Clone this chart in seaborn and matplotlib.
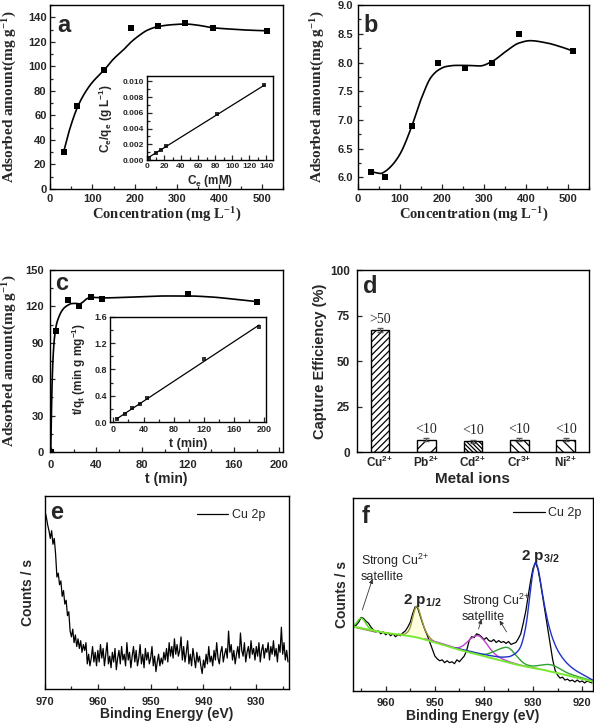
import matplotlib.pyplot as plt
import matplotlib.ticker as mticker
import numpy as np
import seaborn as sns

# ---- (a) Cu2+ adsorption isotherm ----
conc_a = [32, 64, 128, 192, 256, 320, 384, 512]
q_a = [30, 68, 97, 131, 133, 135, 131, 129]
fit_a_x = [32, 45, 64, 80, 100, 128, 150, 175, 192, 210, 230, 256, 290, 320, 350, 384, 430, 470, 512]
fit_a_y = [30, 47, 66, 77, 87, 97, 106, 114, 120, 125, 129.5, 132.5, 134, 134.5, 133.5, 131.5, 130.3, 129.5, 129]
# inset (a): Ce/qe vs Ce
ce_a = [2, 10, 16, 22, 82, 138]
ceqe_a = [0.0002, 0.0009, 0.0013, 0.0018, 0.0058, 0.0095]

# ---- (b) second isotherm ----
conc_b = [32, 64, 128, 192, 256, 320, 384, 512]
q_b = [6.1, 6.0, 6.9, 8.0, 7.9, 8.0, 8.5, 8.2]
fit_b_x = [32, 45, 55, 64, 80, 100, 128, 150, 175, 192, 210, 235, 256, 290, 320, 350, 384, 410, 450, 480, 512]
fit_b_y = [6.1, 6.08, 6.07, 6.1, 6.2, 6.4, 6.88, 7.35, 7.75, 7.87, 7.93, 7.95, 7.95, 7.94, 8.02, 8.18, 8.34, 8.38, 8.34, 8.28, 8.2]

# ---- (c) kinetics ----
t_c = [0, 5, 15, 25, 35, 45, 120, 180]
q_c = [0, 100, 125, 120, 128, 126, 130, 124]
fit_c_x = [0, 0.8, 1.5, 2.5, 3.5, 5, 7, 9.5, 12, 15, 18, 22, 25, 28, 31, 35, 40, 45, 60, 80, 100, 120, 140, 160, 180]
fit_c_y = [0, 40, 65, 85, 96, 105, 111, 116, 119, 121, 122.3, 122.5, 122, 123.5, 126, 127.5, 127.3, 127, 127.3, 128, 128.6, 128.6, 127.8, 126, 124]
# inset (c): t/qt vs t
t_ci = [5, 15, 25, 35, 45, 120, 193]
tq_ci = [0.04, 0.12, 0.21, 0.27, 0.36, 0.96, 1.45]

# ---- (d) selectivity ----
ions = ["Cu$^{2{+}}$", "Pb$^{2{+}}$", "Cd$^{2{+}}$", "Cr$^{3{+}}$", "Ni$^{2{+}}$"]
eff = [67, 7, 6, 7, 7]
eff_err = [1.2, 0.9, 1.0, 0.8, 0.8]
eff_note = [">50", "<10", "<10", "<10", "<10"]
hatches = ["/////", "//", "\\\\\\\\\\\\\\\\", "\\\\\\\\", "\\\\\\"]

# ---- (e) XPS Cu 2p before adsorption (0.25 eV steps, 970 -> 924 eV) ----
cnt_e = [92, 89, 85, 82, 78, 82, 75, 78, 70, 58, 60, 54, 56, 48, 51, 44, 46, 38, 40, 30,
         27, 31, 24, 28, 22, 26, 21, 25, 19, 23, 20, 24, 13, 18, 12, 16, 22, 14, 19, 12,
         20, 14, 23, 16, 21, 12, 18, 24, 13, 17, 11, 19, 14, 21, 10, 16, 20, 13, 22, 15,
         18, 12, 24, 15, 19, 11, 17, 22, 14, 20, 12, 16, 23, 13, 18, 11, 21, 15, 19, 13,
         16, 22, 12, 17, 9, 14, 18, 12, 16, 13, 19, 15, 21, 14, 24, 17, 22, 16, 26, 18,
         23, 17, 20, 27, 15, 22, 14, 19, 25, 13, 18, 12, 21, 16, 11, 19, 14, 17, 12, 8,
         15, 11, 18, 13, 22, 14, 17, 12, 20, 15, 24, 16, 13, 19, 22, 14, 18, 21, 16, 30,
         19, 23, 15, 20, 13, 18, 22, 16, 29, 20, 17, 24, 14, 19, 22, 16, 25, 18, 21, 15,
         22, 17, 24, 14, 20, 23, 16, 21, 19, 24, 15, 22, 18, 25, 17, 21, 14, 23, 19, 32,
         18, 24, 15, 20, 14]

# ---- (f) XPS Cu 2p after adsorption (0.5 eV steps from 966.5 eV) ----
cnt_f = [33.5, 34, 35.5, 38, 37.5, 36, 35, 33, 31.5, 30.5, 31, 29.5, 30.5, 29, 30, 28.5, 29.5, 28, 29, 28.5,
         30, 31, 33, 35.5, 40, 43.5, 43, 39, 35, 31.5, 28.5, 25, 21.5, 18, 16.5, 15.5, 16, 14.5, 15.5, 14.5,
         15, 14, 16, 15, 16.5, 18, 21, 26, 28, 27.5, 29.5, 29, 28, 26.5, 27.5, 26, 25.5, 26.5, 25, 26,
         25, 25.5, 24.5, 25.5, 24, 24.5, 25, 27, 29.5, 35, 41, 49, 57, 63.5, 66.5, 63, 56, 48, 40, 32,
         24, 16, 10.5, 8, 6.5, 7, 5.5, 6, 5, 5.5, 4.5, 5.5, 4.5, 5, 4, 5, 4.5, 4]
bg_f_x = [966.65, 963, 960, 957, 954, 951, 948, 945, 942, 939, 936, 933, 930, 927, 924, 921, 917.8]
bg_f_y = [33.3, 31.5, 30, 29, 27.8, 25.8, 23.5, 21.2, 19.2, 17.3, 15.3, 13.3, 11.8, 10.3, 8.5, 6.7, 4.7]
sat1_x = [966.65, 966, 965.5, 965, 964.5, 964, 963.5, 963, 962.5]
sat1_y = [33.6, 35, 36.8, 37.6, 36.8, 34.8, 33, 31.8, 31.3]
p12_x = [957.5, 956.5, 955.5, 955, 954.5, 954, 953.75, 953.5, 953, 952.5, 952, 951.5, 951, 950.5, 950]
p12_y = [29.3, 29.2, 30.5, 33, 38, 42.5, 43.8, 43.3, 40, 35.5, 31.8, 29.3, 27.5, 26.2, 25.3]
p12_bg = [29.2, 28.8, 28.4, 28.2, 28.0, 27.8, 27.7, 27.6, 27.5, 27.1, 26.8, 26.1, 25.8, 25.4, 25.0]
sat2_x = [952, 949, 947, 945.5, 944.5, 943.5, 942.5, 941.5, 941, 940.5, 939.5, 938.5, 937.5, 936, 934, 932, 930, 929]
sat2_y = [26.9, 24.8, 23.2, 22.2, 23, 25, 27.3, 28.5, 28.4, 27.5, 24.5, 21, 18.5, 16.2, 14.3, 12.9, 11.9, 11.4]
sat3_x = [945, 942, 940, 939, 938, 937, 936, 935.5, 935, 934.5, 934, 933, 932, 931, 930, 929, 928, 927, 926, 925, 923, 920, 917.8]
sat3_y = [21.5, 19.6, 18.8, 19.3, 20.3, 21.4, 22.3, 22.5, 22.2, 21.3, 20, 17, 14.5, 13.2, 12.8, 13, 13.4, 13.6, 13.2, 12, 9.2, 6.6, 5.0]
p32_x = [946, 943, 940, 938, 936.5, 935, 934, 933, 932.5, 932, 931.5, 931, 930.5, 930, 929.5, 929, 928.5, 928, 927.5, 927, 926.5, 926, 925, 924, 923, 921.5, 920, 917.8]
p32_y = [22.3, 20.5, 18.8, 17.9, 17.4, 17.6, 18.6, 20.8, 23, 27, 33, 41.5, 52.5, 62, 66.5, 63.5, 57, 49, 42, 36, 31, 27, 21, 17, 14, 10.8, 8.5, 5.4]


def pchip(x, y, n=400):
    # monotone cubic through the read curve points, only for a smooth line
    x = np.asarray(x, float)
    y = np.asarray(y, float)
    order = np.argsort(x)
    x, y = x[order], y[order]
    h = np.diff(x)
    s = np.diff(y) / h
    d = np.zeros_like(x)
    d[0], d[-1] = s[0], s[-1]
    for k in range(1, len(x) - 1):
        if s[k - 1] * s[k] > 0:
            w1 = 2 * h[k] + h[k - 1]
            w2 = h[k] + 2 * h[k - 1]
            d[k] = (w1 + w2) / (w1 / s[k - 1] + w2 / s[k])
    xs = np.linspace(x[0], x[-1], n)
    i = np.clip(np.searchsorted(x, xs) - 1, 0, len(x) - 2)
    t = (xs - x[i]) / h[i]
    ys = ((2 * t**3 - 3 * t**2 + 1) * y[i] + (t**3 - 2 * t**2 + t) * h[i] * d[i]
          + (-2 * t**3 + 3 * t**2) * y[i + 1] + (t**3 - t**2) * h[i] * d[i + 1])
    return xs, ys


def style(ax, size, xpad=3, ypad=3):
    ax.tick_params(which="both", direction="in", top=False, right=False, labelsize=size, width=0.9)
    ax.tick_params(which="major", length=3.5)
    ax.tick_params(which="minor", length=2)
    ax.tick_params(axis="x", pad=xpad)
    ax.tick_params(axis="y", pad=ypad)
    for s in ax.spines.values():
        s.set_visible(True)
        s.set_linewidth(1.0)
        s.set_color("black")


def letter(ax, x, y, txt):
    ax.text(x, y, txt, transform=ax.transAxes, fontsize=17, fontweight="bold", va="baseline", ha="left")


sns.set_style("ticks")
plt.rcParams["font.family"] = ["Liberation Sans", "DejaVu Sans"]
plt.rcParams["font.weight"] = "bold"
plt.rcParams["axes.labelweight"] = "bold"
plt.rcParams["mathtext.default"] = "regular"
plt.rcParams["hatch.linewidth"] = 0.9

fig = plt.figure(figsize=(5.94, 7.28), dpi=100)
serif = ["Liberation Serif", "DejaVu Serif"]

# ---------------- (a) ----------------
ax_a = fig.add_axes([0.0842, 0.7404, 0.392, 0.2527])
fx, fy = pchip(fit_a_x, fit_a_y)
sns.lineplot(x=fx, y=fy, color="black", lw=1.2, ax=ax_a)
sns.scatterplot(x=conc_a, y=q_a, marker="s", s=22, color="black", linewidth=0, ax=ax_a, zorder=3)
ax_a.set_xlim(0, 550)
ax_a.set_ylim(0, 150)
ax_a.xaxis.set_major_locator(mticker.MultipleLocator(100))
ax_a.xaxis.set_minor_locator(mticker.MultipleLocator(50))
ax_a.yaxis.set_major_locator(mticker.MultipleLocator(20))
ax_a.yaxis.set_minor_locator(mticker.MultipleLocator(10))
style(ax_a, 8, xpad=3.5, ypad=2.5)
ax_a.set_xlabel("Concentration (mg L$^{-1}$)", fontsize=10.5, family=serif)
ax_a.set_ylabel("Adsorbed amount(mg g$^{-1}$)", fontsize=11, family=serif)
ax_a.xaxis.set_label_coords(0.5, -0.092)
ax_a.yaxis.set_label_coords(-0.132, 0.5)
letter(ax_a, 0.03, 0.855, "a")

ax_ai = fig.add_axes([0.2475, 0.7802, 0.2121, 0.1154])
ax_ai.set_facecolor("white")
sns.regplot(x=ce_a, y=ceqe_a, ci=None, marker="s", color="black", ax=ax_ai,
            scatter_kws={"s": 9, "linewidths": 0}, line_kws={"lw": 0.9})
ax_ai.set_xlim(0, 148)
ax_ai.set_ylim(0, 0.0107)
ax_ai.xaxis.set_major_locator(mticker.MultipleLocator(20))
ax_ai.xaxis.set_minor_locator(mticker.MultipleLocator(10))
ax_ai.yaxis.set_major_locator(mticker.MultipleLocator(0.002))
ax_ai.yaxis.set_minor_locator(mticker.MultipleLocator(0.001))
ax_ai.yaxis.set_major_formatter(mticker.FormatStrFormatter("%.3f"))
style(ax_ai, 6, xpad=2, ypad=2)
ax_ai.set_xlabel("C$_e$ (mM)", fontsize=8.5)
ax_ai.set_ylabel("C$_e$/q$_e$ (g L$^{-1}$)", fontsize=8.5)
ax_ai.xaxis.set_label_coords(0.5, -0.158)
ax_ai.yaxis.set_label_coords(-0.254, 0.5)

# ---------------- (b) ----------------
ax_b = fig.add_axes([0.6022, 0.7404, 0.3894, 0.2527])
fx, fy = pchip(fit_b_x, fit_b_y)
sns.lineplot(x=fx, y=fy, color="black", lw=1.2, ax=ax_b)
sns.scatterplot(x=conc_b, y=q_b, marker="s", s=22, color="black", linewidth=0, ax=ax_b, zorder=3)
ax_b.set_xlim(0, 550)
ax_b.set_ylim(5.8, 9.0)
ax_b.xaxis.set_major_locator(mticker.MultipleLocator(100))
ax_b.xaxis.set_minor_locator(mticker.MultipleLocator(50))
ax_b.yaxis.set_major_locator(mticker.MultipleLocator(0.5))
ax_b.yaxis.set_minor_locator(mticker.MultipleLocator(0.25))
ax_b.yaxis.set_major_formatter(mticker.FormatStrFormatter("%.1f"))
style(ax_b, 8, xpad=3.5, ypad=3.5)
ax_b.set_xlabel("Concentration (mg L$^{-1}$)", fontsize=10.5, family=serif)
ax_b.set_ylabel("Adsorbed amount(mg g$^{-1}$)", fontsize=11, family=serif)
ax_b.xaxis.set_label_coords(0.5, -0.092)
ax_b.yaxis.set_label_coords(-0.134, 0.5)
letter(ax_b, 0.027, 0.855, "b")

# ---------------- (c) ----------------
ax_c = fig.add_axes([0.0842, 0.3791, 0.392, 0.25])
fx, fy = pchip(fit_c_x, fit_c_y)
sns.lineplot(x=fx, y=fy, color="black", lw=1.2, ax=ax_c)
sns.scatterplot(x=t_c, y=q_c, marker="s", s=22, color="black", linewidth=0, ax=ax_c, zorder=3)
ax_c.set_xlim(-0.6, 203)
ax_c.set_ylim(0, 150)
ax_c.xaxis.set_major_locator(mticker.MultipleLocator(40))
ax_c.xaxis.set_minor_locator(mticker.MultipleLocator(20))
ax_c.yaxis.set_major_locator(mticker.MultipleLocator(30))
ax_c.yaxis.set_minor_locator(mticker.MultipleLocator(15))
style(ax_c, 8, xpad=6, ypad=4.5)
ax_c.set_xlabel("t (min)", fontsize=10)
ax_c.set_ylabel("Adsorbed amount(mg g$^{-1}$)", fontsize=11, family=serif)
ax_c.xaxis.set_label_coords(0.5, -0.108)
ax_c.yaxis.set_label_coords(-0.132, 0.5)
letter(ax_c, 0.02, 0.89, "c")

ax_ci = fig.add_axes([0.1852, 0.4203, 0.2626, 0.1447])
ax_ci.set_facecolor("white")
sns.regplot(x=t_ci, y=tq_ci, ci=None, marker="s", color="black", ax=ax_ci,
            scatter_kws={"s": 9, "linewidths": 0}, line_kws={"lw": 0.9})
ax_ci.set_xlim(-4.4, 202)
ax_ci.set_ylim(0, 1.6)
ax_ci.xaxis.set_major_locator(mticker.MultipleLocator(40))
ax_ci.xaxis.set_minor_locator(mticker.MultipleLocator(20))
ax_ci.yaxis.set_major_locator(mticker.MultipleLocator(0.4))
ax_ci.yaxis.set_minor_locator(mticker.MultipleLocator(0.2))
ax_ci.yaxis.set_major_formatter(mticker.FormatStrFormatter("%.1f"))
style(ax_ci, 6.5, xpad=2, ypad=2)
ax_ci.set_xlabel("t (min)", fontsize=9)
ax_ci.set_ylabel("t/q$_t$ (min g mg$^{-1}$)", fontsize=8.5)
ax_ci.xaxis.set_label_coords(0.5, -0.155)
ax_ci.yaxis.set_label_coords(-0.139, 0.5)

# ---------------- (d) ----------------
ax_d = fig.add_axes([0.6005, 0.3787, 0.391, 0.2504])
sns.barplot(x=ions, y=eff, color="white", edgecolor="black", linewidth=1.0, width=0.4, ax=ax_d)
for bar, h in zip(ax_d.patches, hatches):
    bar.set_hatch(h)
    bar.set_facecolor("white")
ax_d.errorbar(range(len(ions)), eff, yerr=eff_err, fmt="none", ecolor="#555555", capsize=2, lw=0.8)
for i, (v, e, note) in enumerate(zip(eff, eff_err, eff_note)):
    ax_d.text(i, v + e + 1.2, note, ha="center", va="bottom", fontsize=10, fontweight="normal", family=serif)
ax_d.set_xlim(-0.5, 4.5)
ax_d.set_ylim(0, 100)
ax_d.yaxis.set_major_locator(mticker.MultipleLocator(25))
style(ax_d, 8.5, xpad=2, ypad=5)
ax_d.tick_params(axis="x", length=0)
ax_d.set_xlabel("Metal ions", fontsize=11)
ax_d.set_ylabel("Capture Efficiency (%)", fontsize=10.5)
ax_d.xaxis.set_label_coords(0.5, -0.106)
ax_d.yaxis.set_label_coords(-0.127, 0.5)
letter(ax_d, 0.028, 0.872, "d")

# ---------------- (e) ----------------
ax_e = fig.add_axes([0.0758, 0.0536, 0.4108, 0.2651])
be_e = np.linspace(970, 924, len(cnt_e))
sns.lineplot(x=be_e, y=cnt_e, color="black", lw=0.9, ax=ax_e, label="Cu 2p")
ax_e.set_xlim(970, 923.8)
ax_e.set_ylim(0, 100)
ax_e.xaxis.set_major_locator(mticker.MultipleLocator(10))
ax_e.xaxis.set_minor_locator(mticker.MultipleLocator(5))
style(ax_e, 8, xpad=6, ypad=3)
ax_e.tick_params(axis="y", left=False, labelleft=False, which="both")
ax_e.set_xlabel("Binding Energy (eV)", fontsize=10)
ax_e.set_ylabel("Counts / s", fontsize=10)
ax_e.xaxis.set_label_coords(0.5, -0.092)
ax_e.yaxis.set_label_coords(-0.041, 0.5)
ax_e.legend(loc="center right", bbox_to_anchor=(0.95, 0.90), frameon=False,
            prop={"size": 9, "weight": "normal"}, handlelength=2.5, handletextpad=0.3)
letter(ax_e, 0.02, 0.879, "e")

# ---------------- (f) ----------------
ax_f = fig.add_axes([0.5943, 0.0513, 0.404, 0.2647])
be_f = 966.5 - 0.5 * np.arange(len(cnt_f))
sns.lineplot(x=be_f, y=cnt_f, color="black", lw=0.9, ax=ax_f, label="Cu 2p")
px, py = pchip(p12_x, p12_y)
_, pb = pchip(p12_x, p12_bg)
ax_f.fill_between(px, pb, py, color="#FFFFE0", lw=0)
sns.lineplot(x=px, y=py, color="#9A9A3A", lw=1.0, ax=ax_f)
sns.lineplot(x=[966.65, 962], y=[33.1, 30.4], color="#8B6F4E", lw=1.0, ax=ax_f)
for cx, cy, col in [(sat2_x, sat2_y, "#C040D0"), (sat3_x, sat3_y, "#30A030"), (p32_x, p32_y, "#2030C8")]:
    sx, sy = pchip(cx, cy)
    sns.lineplot(x=sx, y=sy, color=col, lw=1.0, ax=ax_f)
sx, sy = pchip(sat1_x, sat1_y)
sns.lineplot(x=sx, y=sy, color="#55DD22", lw=1.1, ax=ax_f)
sx, sy = pchip(bg_f_x, bg_f_y)
sns.lineplot(x=sx, y=sy, color="#77E830", lw=1.4, ax=ax_f)
ax_f.set_xlim(966.65, 917.8)
ax_f.set_ylim(0, 100)
ax_f.xaxis.set_major_locator(mticker.MultipleLocator(10))
ax_f.xaxis.set_minor_locator(mticker.MultipleLocator(5))
style(ax_f, 8, xpad=5, ypad=3)
ax_f.tick_params(axis="y", left=False, labelleft=False, which="both")
ax_f.set_xlabel("Binding Energy (eV)", fontsize=10)
ax_f.set_ylabel("Counts / s", fontsize=10)
ax_f.xaxis.set_label_coords(0.5, -0.097)
ax_f.yaxis.set_label_coords(-0.015, 0.5)
handles, labels = ax_f.get_legend_handles_labels()
ax_f.legend(handles[:1], labels[:1], loc="center right", bbox_to_anchor=(1.0, 0.922), frameon=False,
            prop={"size": 9, "weight": "normal"}, handlelength=2.5, handletextpad=0.3)
letter(ax_f, 0.036, 0.869, "f")

ax_f.text(0.032, 0.721, "Strong Cu$^{2{+}}$\nsatellite", transform=ax_f.transAxes, ha="left", va="top",
          fontsize=9, fontweight="normal", linespacing=1.15)
ax_f.text(0.453, 0.514, "Strong Cu$^{2{+}}$\nsatellite", transform=ax_f.transAxes, ha="left", va="top",
          fontsize=9, fontweight="normal", linespacing=1.15)
ax_f.text(0.29, 0.45, "2 p$_{1/2}$", transform=ax_f.transAxes, ha="center", va="baseline", fontsize=11)
ax_f.text(0.782, 0.678, "2 p$_{3/2}$", transform=ax_f.transAxes, ha="center", va="baseline", fontsize=11)
arrow = dict(arrowstyle="-|>", color="#333333", lw=0.6, mutation_scale=6, shrinkA=0, shrinkB=0)
ax_f.annotate("", xy=(962.7, 57.9), xytext=(964.75, 41.9), arrowprops=arrow)
ax_f.annotate("", xy=(940.5, 37.0), xytext=(941.1, 32.0), arrowprops=arrow)
ax_f.annotate("", xy=(936.8, 36.4), xytext=(935.4, 30.5), arrowprops=arrow)

fig.savefig("out.png", dpi=100)
